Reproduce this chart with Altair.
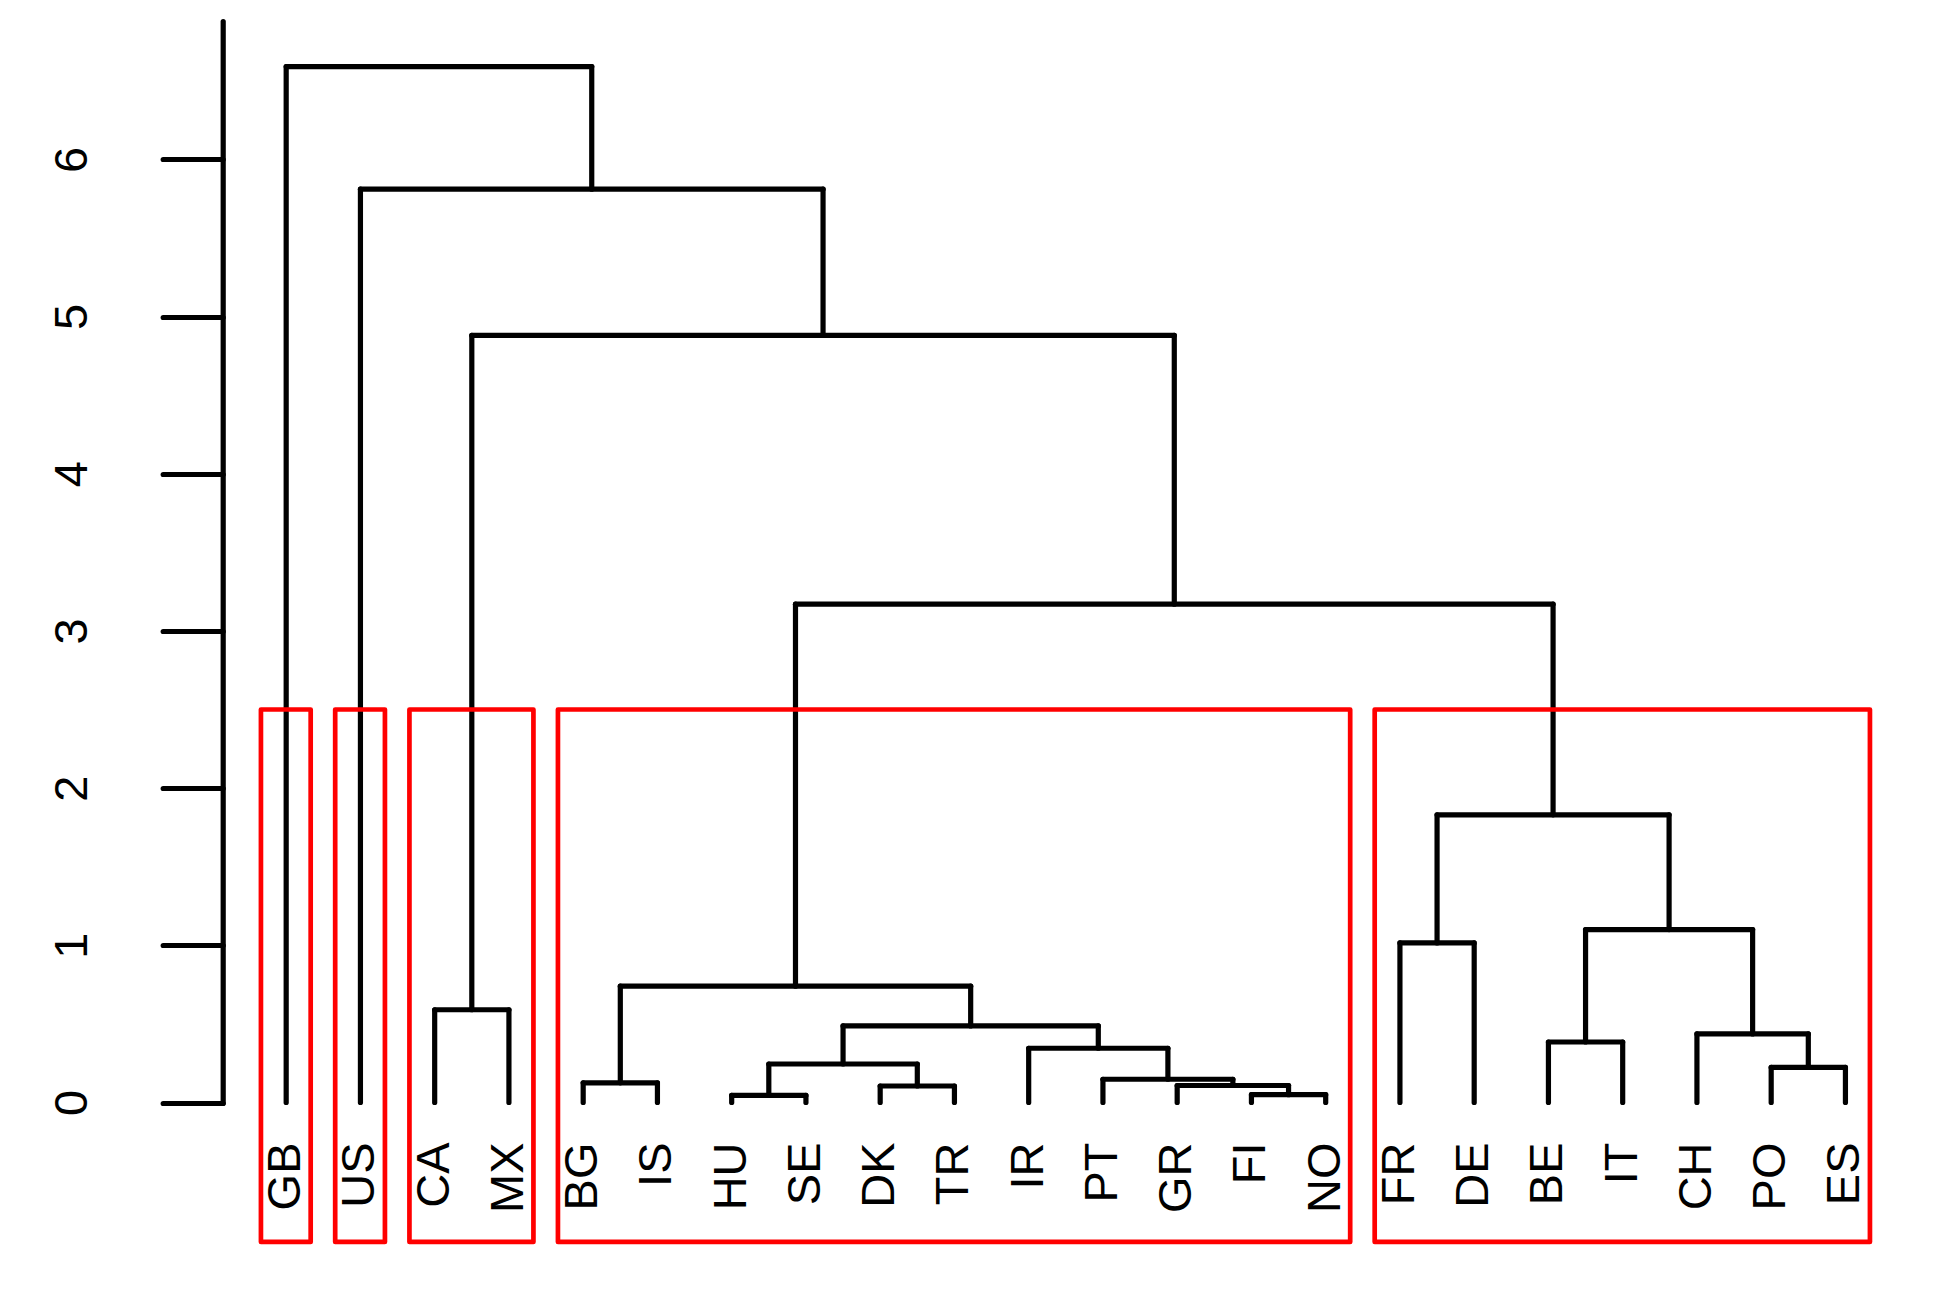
import altair as alt
import pandas as pd

# ---- data ----
leaves = ["GB", "US", "CA", "MX", "BG", "IS", "HU", "SE", "DK", "TR", "IR",
          "PT", "GR", "FI", "NO", "FR", "DE", "BE", "IT", "CH", "PO", "ES"]
# merges: children are leaf names or 1-based indices of earlier merges
merge_left = ["FI", "HU", "DK", "GR", "BG", "PT", "PO", 2, "IR", "BE", "CH",
              8, "CA", 5, "FR", 10, 15, 14, 13, "US", "GB"]
merge_right = ["NO", "SE", "TR", 1, "IS", 4, "ES", 3, 6, "IT", 7,
               9, "MX", 12, "DE", 11, 16, 17, 18, 19, 20]
merge_height = [0.05, 0.045, 0.105, 0.108, 0.125, 0.148, 0.223, 0.245, 0.345,
                0.385, 0.436, 0.487, 0.59, 0.74, 1.015, 1.10, 1.83, 3.17,
                4.88, 5.81, 6.59]
k_clusters = 5
y_ticks = [0, 1, 2, 3, 4, 5, 6]

# ---- layout / style ----
FONT = "Liberation Sans, Arial, Helvetica, sans-serif"
X_DOMAIN = [0.145, 23.0]
Y_DOMAIN = [0, 6.88]
BOX_BOTTOM = -0.887
W, H = 1697, 1081.5
LW = 5.2

# ---- tree geometry in data units ----
leaf_pos = {name: i + 1 for i, name in enumerate(leaves)}
node_pos, node_h, node_leaves = [], [], []


def info(c):
    if isinstance(c, str):
        return leaf_pos[c], 0.0, [c]
    return node_pos[c - 1], node_h[c - 1], node_leaves[c - 1]


segs = []
for l, r, h in zip(merge_left, merge_right, merge_height):
    xl, hl, ll = info(l)
    xr, hr, lr = info(r)
    segs.append(dict(x=xl, x2=xl, y=hl, y2=h))
    segs.append(dict(x=xr, x2=xr, y=hr, y2=h))
    segs.append(dict(x=xl, x2=xr, y=h, y2=h))
    node_pos.append((xl + xr) / 2)
    node_h.append(h)
    node_leaves.append(ll + lr)
seg_df = pd.DataFrame(segs)

# clusters from cutting into k groups (as rect.hclust)
n_merge = len(merge_height)
groups = []
for j in range(n_merge - (k_clusters - 1), n_merge):
    for c in (merge_left[j], merge_right[j]):
        if isinstance(c, str) or c <= n_merge - (k_clusters - 1):
            groups.append(info(c)[2])
groups.sort(key=lambda g: leaf_pos[g[0]])
hs = sorted(merge_height, reverse=True)
cut = (hs[k_clusters - 2] + hs[k_clusters - 1]) / 2
box_df = pd.DataFrame([
    dict(x=leaf_pos[g[0]] - 0.34, x2=leaf_pos[g[-1]] + 0.33, y=BOX_BOTTOM, y2=cut)
    for g in groups
])

leaf_df = pd.DataFrame(dict(label=leaves, x=[leaf_pos[n] for n in leaves], y=0.0))

xs = alt.Scale(domain=X_DOMAIN, nice=False, zero=False)
ys = alt.Scale(domain=Y_DOMAIN, nice=False, zero=False)

yaxis = alt.Axis(values=y_ticks, tickSize=60, tickWidth=LW, tickColor="black",
                 tickCap="round", domainColor="black", domainWidth=LW,
                 domainCap="round", labelFontSize=47, labelFont=FONT,
                 labelColor="black", labelAngle=270, labelAlign="center",
                 labelBaseline="middle", labelPadding=90, grid=False,
                 title=None, format="d")

segments = alt.Chart(seg_df).mark_rule(color="black", strokeWidth=LW,
                                       strokeCap="round").encode(
    x=alt.X("x:Q", scale=xs, axis=None),
    x2="x2",
    y=alt.Y("y:Q", scale=ys, axis=yaxis),
    y2="y2",
)

boxes = alt.Chart(box_df).mark_rect(fillOpacity=0, stroke="#FF0000",
                                    strokeWidth=4.7, strokeJoin="round").encode(
    x=alt.X("x:Q", scale=xs, axis=None),
    x2="x2",
    y=alt.Y("y:Q", scale=ys),
    y2="y2",
)

labels = alt.Chart(leaf_df).mark_text(angle=270, align="right", baseline="middle",
                                      dx=-40, fontSize=47, font=FONT,
                                      color="black").encode(
    x=alt.X("x:Q", scale=xs, axis=None),
    y=alt.Y("y:Q", scale=ys),
    text="label",
)

chart = alt.layer(segments, labels, boxes).properties(
    width=W, height=H,
    background="white",
    autosize=alt.AutoSizeParams(type="none"),
    padding={"left": 214.7, "top": 13, "right": 20, "bottom": 170},
).configure_view(strokeWidth=0)

chart.save("out.html", embed_options={"renderer": "svg", "actions": False})
